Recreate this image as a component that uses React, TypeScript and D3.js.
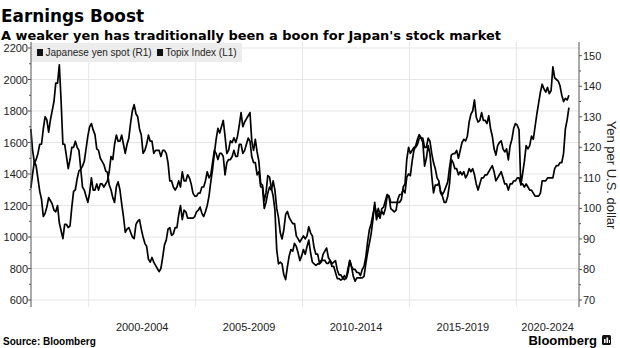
import React from "react";
import * as d3 from "d3";

// ---- data (monthly averages, Apr 1997 - Jun 2022) ----
const startYear = 1997;
const startMonth = 4; // April

const yenSpot: number[] = [
  // 1997 Apr-Dec
  126, 119, 115, 116, 118, 121, 121, 126, 130,
  // 1998
  129, 125, 129, 132, 135, 141, 141, 147, 135, 121, 121, 117,
  // 1999
  113, 116, 120, 120, 122, 120, 119, 113, 107, 106, 104, 102,
  // 2000
  105, 110, 106, 106, 108, 106, 108, 108, 107, 108, 109, 112,
  // 2001
  117, 116, 121, 124, 122, 122, 124, 121, 118, 121, 123, 128,
  // 2002
  132, 134, 131, 130, 126, 124, 118, 119, 121, 124, 122, 122,
  // 2003
  118, 119, 119, 119, 117, 119, 119, 118, 115, 109, 109, 107,
  // 2004
  106, 107, 109, 107, 112, 109, 109, 111, 110, 108, 105, 104,
  // 2005
  104, 105, 105, 107, 107, 109, 112, 110, 111, 115, 119, 118,
  // 2006
  116, 118, 118, 117, 111, 115, 116, 116, 117, 119, 117, 117,
  // 2007
  121, 121, 118, 119, 121, 123, 122, 117, 115, 115, 111, 112,
  // 2008
  107, 107, 100, 102, 105, 107, 106, 109, 106, 100, 97, 92,
  // 2009
  90, 93, 98, 99, 97, 96, 95, 95, 91, 90, 89, 90,
  // 2010
  91, 90, 91, 94, 92, 91, 87, 85, 85, 82, 83, 83,
  // 2011
  83, 82, 82, 83, 81, 81, 79, 77, 77, 76.5, 77, 78,
  // 2012
  77, 79, 83, 81, 80, 80, 79, 79, 78, 80, 81, 84,
  // 2013
  89, 93, 95, 98, 101, 98, 100, 98, 99, 98, 100, 104,
  // 2014
  104, 102, 102, 102, 102, 102, 102, 103, 107, 108, 116, 120,
  // 2015
  118, 119, 120, 120, 121, 123, 123, 123, 120, 120, 123, 122,
  // 2016
  118, 115, 113, 110, 109, 105, 104, 102, 102, 104, 108, 116,
  // 2017
  115, 113, 113, 111, 112, 111, 112, 110, 111, 113, 112, 113,
  // 2018
  111, 108, 106, 108, 110, 110, 111, 111, 112, 113, 114, 112,
  // 2019
  109, 110, 111, 112, 110, 108, 108, 106, 108, 108, 109, 109,
  // 2020
  110, 110, 108, 108, 107, 108, 107, 106, 106, 105, 104, 104,
  // 2021
  104, 105, 109, 109, 109, 110, 110, 110, 110, 113, 114, 114,
  // 2022 Jan-Jun
  115, 115, 118, 126, 129, 133,
];

const topixIndex: number[] = [
  // 1997 Apr-Dec
  1310, 1400, 1480, 1450, 1370, 1290, 1240, 1130, 1150,
  // 1998
  1190, 1250, 1230, 1210, 1170, 1160, 1200, 1090, 1040, 990, 1080, 1080,
  // 1999
  1060, 1070, 1190, 1290, 1300, 1370, 1420, 1430, 1450, 1480, 1560, 1640,
  // 2000
  1700, 1720, 1680, 1650, 1560, 1550, 1500, 1480, 1460, 1420, 1410, 1330,
  // 2001
  1300, 1250, 1220, 1320, 1350, 1300, 1210, 1130, 1030, 1050, 1060, 1030,
  // 2002
  1000, 990, 1080, 1100, 1110, 1050, 1000, 960, 940, 860, 840, 870,
  // 2003
  840, 820, 800, 780, 800, 870, 950, 980, 1050, 1060, 1010, 1020,
  // 2004
  1060, 1060, 1140, 1200, 1110, 1170, 1160, 1120, 1120, 1120, 1120, 1130,
  // 2005
  1160, 1170, 1190, 1150, 1130, 1160, 1200, 1260, 1350, 1430, 1530, 1620,
  // 2006
  1690, 1660, 1700, 1740, 1640, 1530, 1550, 1610, 1600, 1630, 1600, 1640,
  // 2007
  1710, 1790, 1700, 1730, 1750, 1770, 1790, 1610, 1550, 1620, 1540, 1480,
  // 2008
  1340, 1330, 1230, 1280, 1390, 1380, 1310, 1260, 1170, 920, 830, 840,
  // 2009
  830, 760, 730, 810, 880, 920, 910, 960, 940, 900, 850, 880,
  // 2010
  920, 890, 940, 980, 900, 840, 830, 820, 830, 830, 840, 890,
  // 2011
  910, 930, 870, 850, 830, 840, 850, 790, 760, 760, 740, 730,
  // 2012
  740, 800, 850, 810, 750, 720, 740, 740, 740, 740, 750, 830,
  // 2013
  900, 960, 1020, 1110, 1220, 1110, 1150, 1120, 1180, 1190, 1230, 1270,
  // 2014
  1260, 1180, 1170, 1160, 1170, 1240, 1270, 1270, 1300, 1280, 1380, 1400,
  // 2015
  1390, 1480, 1550, 1580, 1620, 1650, 1630, 1600, 1450, 1500, 1580, 1530,
  // 2016
  1390, 1280, 1330, 1330, 1340, 1290, 1270, 1290, 1320, 1350, 1440, 1520,
  // 2017
  1530, 1530, 1550, 1500, 1550, 1600, 1620, 1610, 1640, 1730, 1780, 1800,
  // 2018
  1870, 1760, 1730, 1740, 1790, 1740, 1740, 1720, 1770, 1690, 1640, 1560,
  // 2019
  1520, 1580, 1600, 1610, 1560, 1540, 1560, 1490, 1580, 1620, 1690, 1720,
  // 2020
  1710, 1680, 1330, 1400, 1480, 1580, 1560, 1580, 1640, 1620, 1700, 1780,
  // 2021
  1850, 1920, 1970, 1940, 1920, 1950, 1910, 1930, 2080, 2010, 2000, 1990,
  // 2022 Jan-Jun
  1960, 1900, 1860, 1880, 1870, 1900,
];

const leftTicks = [600, 800, 1000, 1200, 1400, 1600, 1800, 2000, 2200];
const rightTicks = [70, 80, 90, 100, 110, 120, 130, 140, 150];
const gridYears = [2000, 2005, 2010, 2015, 2020];
const periodLabels = ["2000-2004", "2005-2009", "2010-2014", "2015-2019", "2020-2024"];
const legendLabels = ["Japanese yen spot (R1)", "Topix Index (L1)"];

const title = "Earnings Boost";
const subtitle = "A weaker yen has traditionally been a boon for Japan's stock market";
const source = "Source: Bloomberg";
const rightAxisTitle = "Yen per U.S. dollar";

// ---- layout ----
const W = 620;
const H = 348;
const plotL = 31;
const plotR = 579;
const plotT = 42;
const plotB = 307;
const FONT = "'Liberation Sans', Arial, sans-serif";
const HEAD_FONT = "'DejaVu Sans', Verdana, sans-serif";

export default function App() {
  const x = d3.scaleLinear().domain([1997.3, 2022.93]).range([plotL, plotR]);
  const yL = d3.scaleLinear().domain([600, 2200]).range([300, 48]);
  const yR = d3.scaleLinear().domain([70, 150]).range([300, 55.7]);

  const toTime = (i: number) => startYear + (startMonth - 1 + i + 0.5) / 12;

  const yenLine = d3
    .line<number>()
    .x((_, i) => x(toTime(i)))
    .y((v) => yR(v));
  const topixLine = d3
    .line<number>()
    .x((_, i) => x(toTime(i)))
    .y((v) => yL(v));

  const leftMinor = d3.range(600, 2201, 100).filter((v) => !leftTicks.includes(v));
  const rightMinor = d3.range(70, 151, 5).filter((v) => !rightTicks.includes(v));

  const periodCenters = gridYears.map((yr, i) => {
    const a = x(yr);
    const b = i < gridYears.length - 1 ? x(gridYears[i + 1]) : plotR;
    return (a + b) / 2;
  });

  const axisColor = "#555";
  const textColor = "#222";

  return (
    <div style={{ position: "absolute", left: 0, top: 0 }}>
      <svg width={W} height={H} style={{ display: "block", background: "#fff" }} fontFamily={FONT}>
        <rect x={0} y={0} width={W} height={H} fill="#fff" />

        {/* titles */}
        <text x={1} y={21.5} fontSize={17.5} fontWeight="bold" fill="#000" fontFamily={HEAD_FONT}
          textLength={143} lengthAdjust="spacingAndGlyphs">
          {title}
        </text>
        <text x={1} y={40} fontSize={13} fontWeight="bold" fill="#000" fontFamily={HEAD_FONT}
          textLength={500} lengthAdjust="spacingAndGlyphs">
          {subtitle}
        </text>

        {/* gridlines */}
        {leftTicks.map((t) => (
          <line key={"hg" + t} x1={plotL} x2={plotR} y1={yL(t)} y2={yL(t)} stroke="#e6e6e6" strokeWidth={1} />
        ))}
        {gridYears.map((yr) => (
          <line key={"vg" + yr} x1={x(yr)} x2={x(yr)} y1={plotT} y2={plotB} stroke="#e6e6e6" strokeWidth={1} />
        ))}

        {/* data lines */}
        <path d={topixLine(topixIndex) || ""} fill="none" stroke="#000" strokeWidth={1.7} strokeLinejoin="round" />
        <path d={yenLine(yenSpot) || ""} fill="none" stroke="#000" strokeWidth={1.7} strokeLinejoin="round" />

        {/* legend */}
        <rect x={31} y={43} width={211} height={19} fill="#ececec" />
        <rect x={37} y={49} width={6} height={7} fill="#111" />
        <text x={45.5} y={56} fontSize={10} fill={textColor}>
          {legendLabels[0]}
        </text>
        <rect x={157} y={49} width={6} height={7} fill="#111" />
        <text x={165.5} y={56} fontSize={10} fill={textColor}>
          {legendLabels[1]}
        </text>

        {/* left axis */}
        <line x1={plotL} x2={plotL} y1={plotT} y2={plotB} stroke={axisColor} strokeWidth={1} />
        {leftTicks.map((t) => (
          <g key={"lt" + t}>
            <line x1={plotL - 3} x2={plotL} y1={yL(t)} y2={yL(t)} stroke={axisColor} />
            <text x={plotL - 3} y={yL(t) + 4} fontSize={11} textAnchor="end" fill={textColor}>
              {t}
            </text>
          </g>
        ))}
        {leftMinor.map((t) => (
          <line key={"lm" + t} x1={plotL - 2} x2={plotL} y1={yL(t)} y2={yL(t)} stroke={axisColor} />
        ))}

        {/* right axis */}
        <line x1={plotR} x2={plotR} y1={plotT} y2={plotB} stroke={axisColor} strokeWidth={1} />
        {rightTicks.map((t) => (
          <g key={"rt" + t}>
            <line x1={plotR} x2={plotR + 3} y1={yR(t)} y2={yR(t)} stroke={axisColor} />
            <text x={plotR + 4} y={yR(t) + 4} fontSize={11} textAnchor="start" fill={textColor}>
              {t}
            </text>
          </g>
        ))}
        {rightMinor.map((t) => (
          <line key={"rm" + t} x1={plotR} x2={plotR + 2} y1={yR(t)} y2={yR(t)} stroke={axisColor} />
        ))}
        <text
          transform={`translate(607, 175) rotate(90)`}
          fontSize={13}
          textAnchor="middle"
          fill={textColor}
        >
          {rightAxisTitle}
        </text>

        {/* x labels */}
        {periodLabels.map((lab, i) => (
          <text key={lab} x={periodCenters[i]} y={331} fontSize={11} textAnchor="middle" fill={textColor}>
            {lab}
          </text>
        ))}

        {/* footer */}
        <text x={3} y={345} fontSize={10} fontWeight="bold" fill="#000">
          {source}
        </text>
        <text x={597} y={345} fontSize={13} textAnchor="end" fill="#000" fontWeight="600">
          Bloomberg
        </text>
        <rect x={602} y={335} width={9} height={10} rx={1.5} fill="#111" />
        <rect x={604} y={339} width={1.6} height={4} fill="#fff" />
        <rect x={606.5} y={337.5} width={1.6} height={5.5} fill="#fff" />
        <rect x={609} y={340} width={1} height={3} fill="#fff" />
      </svg>
    </div>
  );
}
